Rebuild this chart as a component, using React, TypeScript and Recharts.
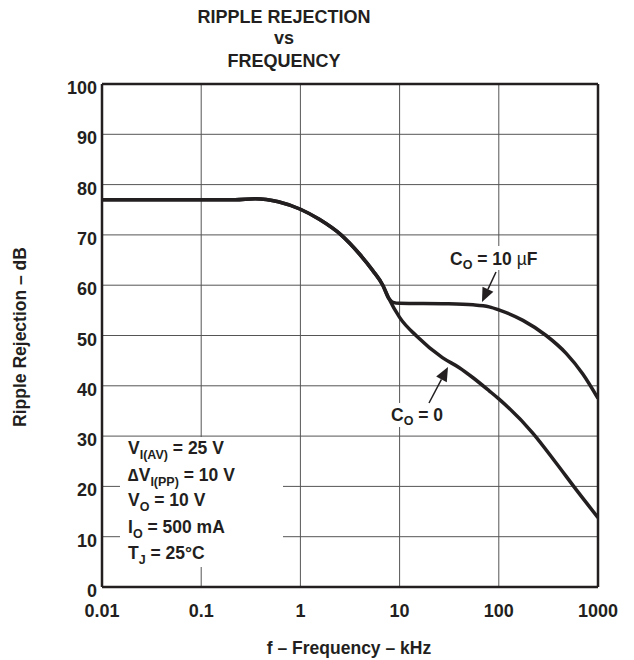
import React from "react";
import { ComposedChart, Line, XAxis, YAxis, CartesianGrid, ReferenceLine } from "recharts";

// shared part of both curves (kHz, dB)
const freqCommon = [0.01, 0.1, 0.22, 0.35, 0.6, 1, 1.55, 2.57, 3.94, 5.37, 6.77, 7.77];
const dbCommon = [77, 77, 77, 77.2, 76.6, 75.1, 73.1, 70, 66.2, 62.9, 60, 57.4];

// Co = 10 uF branch
const freq10uF = [8.6, 10, 30, 55, 80, 100, 175, 300, 480, 700, 1000];
const db10uF = [56.6, 56.4, 56.3, 56.1, 55.7, 55.1, 53.0, 50, 46.4, 42.4, 37.5];

// Co = 0 branch
const freqC0 = [10, 15, 27, 40, 55, 80, 100, 220, 380, 600, 1000];
const dbC0 = [53.6, 49.8, 45.6, 43.6, 41.6, 39, 37.4, 30.6, 24.6, 19.4, 13.8];

const xTicks = [0.01, 0.1, 1, 10, 100, 1000];
const yTicks = [0, 10, 20, 30, 40, 50, 60, 70, 80, 90, 100];

const toPoints = (fs: number[], vs: number[]) => fs.map((f, i) => ({ f, db: vs[i] }));

const data10uF = [...toPoints(freqCommon, dbCommon), ...toPoints(freq10uF, db10uF)];
const dataC0 = [...toPoints(freqCommon, dbCommon), ...toPoints(freqC0, dbC0)];

const FONT = '"Liberation Sans", Arial, Helvetica, sans-serif';
const INK = "#231f20";

const YTick = (props: any) => {
  const { x, y, payload } = props;
  return (
    <text x={x - 5} y={y + 10} textAnchor="end" fontFamily={FONT} fontWeight="bold" fontSize={18} fill={INK}>
      {payload.value}
    </text>
  );
};

const XTick = (props: any) => {
  const { x, y, payload } = props;
  return (
    <text x={x} y={y + 30} textAnchor="middle" fontFamily={FONT} fontWeight="bold" fontSize={18} fill={INK}>
      {String(payload.value)}
    </text>
  );
};

function Arrow(props: { x1: number; y1: number; x2: number; y2: number }) {
  const { x1, y1, x2, y2 } = props;
  const len = Math.hypot(x2 - x1, y2 - y1);
  const dx = (x2 - x1) / len;
  const dy = (y2 - y1) / len;
  const bx = x2 - dx * 14;
  const by = y2 - dy * 14;
  const px = -dy * 6;
  const py = dx * 6;
  return (
    <g>
      <line x1={x1} y1={y1} x2={bx} y2={by} stroke={INK} strokeWidth={1.5} />
      <polygon points={`${x2},${y2} ${bx + px},${by + py} ${bx - px},${by - py}`} fill={INK} />
    </g>
  );
}

const txt = { fontFamily: FONT, fontWeight: "bold" as const, fill: INK };

export default function App() {
  return (
    <div style={{ position: "absolute", left: 0, top: 0, width: 634, height: 660, background: "#fff" }}>
      <ComposedChart width={634} height={660} margin={{ top: 84, right: 36, left: 0, bottom: 0 }}>
        <CartesianGrid stroke="#555" strokeWidth={1} />
        <XAxis
          type="number"
          dataKey="f"
          scale="log"
          domain={[0.01, 1000]}
          ticks={xTicks}
          allowDataOverflow
          height={73}
          tickSize={0}
          tickMargin={0}
          tick={<XTick />}
          axisLine={{ stroke: INK, strokeWidth: 2.5 }}
        />
        <YAxis
          type="number"
          domain={[0, 100]}
          ticks={yTicks}
          width={102}
          tickSize={0}
          tickMargin={0}
          tick={<YTick />}
          axisLine={{ stroke: INK, strokeWidth: 2.5 }}
        />
        <ReferenceLine y={100} stroke={INK} strokeWidth={2.5} />
        <ReferenceLine x={1000} stroke={INK} strokeWidth={2.5} />
        <Line
          data={data10uF}
          dataKey="db"
          type="monotone"
          stroke={INK}
          strokeWidth={3.5}
          dot={false}
          isAnimationActive={false}
        />
        <Line
          data={dataC0}
          dataKey="db"
          type="monotone"
          stroke={INK}
          strokeWidth={3.5}
          dot={false}
          isAnimationActive={false}
        />
      </ComposedChart>
      <svg width={634} height={660} style={{ position: "absolute", left: 0, top: 0, pointerEvents: "none" }}>
        {/* title */}
        <text x={284} y={23} textAnchor="middle" fontSize={18} {...txt}>RIPPLE REJECTION</text>
        <text x={284} y={44} textAnchor="middle" fontSize={18} {...txt}>vs</text>
        <text x={284} y={67} textAnchor="middle" fontSize={18} {...txt}>FREQUENCY</text>

        {/* axis titles */}
        <text x={349} y={654} textAnchor="middle" fontSize={17.5} {...txt}>f – Frequency – kHz</text>
        <text
          x={0}
          y={0}
          transform="translate(26,337) rotate(-90)"
          textAnchor="middle"
          fontSize={17.5}
          {...txt}
        >
          Ripple Rejection – dB
        </text>

        {/* conditions box */}
        <rect x={120} y={437} width={163} height={130} fill="#fff" />
        <text x={128} y={454} fontSize={17.5} {...txt}>
          V<tspan fontSize={12.5} dy={5}>I(AV)</tspan><tspan dy={-5}> = 25 V</tspan>
        </text>
        <text x={128} y={481} fontSize={17.5} {...txt}>
          ∆V<tspan fontSize={12.5} dy={5}>I(PP)</tspan><tspan dy={-5}> = 10 V</tspan>
        </text>
        <text x={128} y={506} fontSize={17.5} {...txt}>
          V<tspan fontSize={12.5} dy={5}>O</tspan><tspan dy={-5}> = 10 V</tspan>
        </text>
        <text x={128} y={533} fontSize={17.5} {...txt}>
          I<tspan fontSize={12.5} dy={5}>O</tspan><tspan dy={-5}> = 500 mA</tspan>
        </text>
        <text x={128} y={559} fontSize={17.5} {...txt}>
          T<tspan fontSize={12.5} dy={5}>J</tspan><tspan dy={-5}> = 25°C</tspan>
        </text>

        {/* curve labels */}
        <rect x={446} y={246} width={112} height={24} fill="#fff" />
        <text x={450} y={265} fontSize={17.5} {...txt}>
          C<tspan fontSize={12.5} dy={4}>O</tspan><tspan dy={-4}> = 10 </tspan><tspan fontWeight="normal">µ</tspan>F
        </text>
        <Arrow x1={496} y1={272} x2={482} y2={302} />

        <rect x={388} y={403} width={68} height={24} fill="#fff" />
        <text x={391} y={421} fontSize={17.5} {...txt}>
          C<tspan fontSize={12.5} dy={4}>O</tspan><tspan dy={-4}> = 0</tspan>
        </text>
        <Arrow x1={429} y1={403} x2={448} y2={367} />
      </svg>
    </div>
  );
}
